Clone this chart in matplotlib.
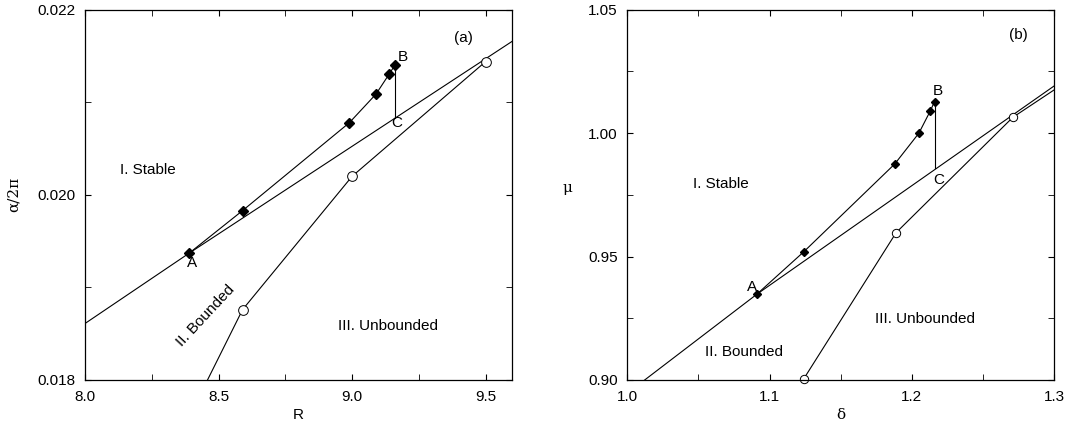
import numpy as np
import matplotlib
matplotlib.use("Agg")
import matplotlib.pyplot as plt

plt.rcParams['font.family'] = ['Liberation Sans', 'DejaVu Sans']
plt.rcParams['font.size'] = 11

# panel (a): R vs alpha/2pi
a_R_stab = [8.39, 8.59, 8.99, 9.09, 9.14, 9.16]
a_al_stab = [0.01937, 0.01983, 0.02078, 0.02109, 0.02131, 0.02140]
a_R_unb = [8.40, 8.59, 9.00, 9.50]
a_al_unb = [0.01766, 0.01876, 0.02020, 0.02144]
a_R_bnd = [8.0, 8.39, 9.6]
a_al_bnd = [0.01861, 0.01937, 0.02166]
a_R_BC = [9.16, 9.16]
a_al_BC = [0.02140, 0.02083]

# panel (b): delta vs mu
b_d_stab = [1.091, 1.124, 1.188, 1.205, 1.213, 1.216]
b_mu_stab = [0.9347, 0.9519, 0.9875, 1.0000, 1.0090, 1.0128]
b_d_unb = [1.124, 1.189, 1.271, 1.300]
b_mu_unb = [0.9004, 0.9597, 1.0064, 1.0175]
b_d_bnd = [1.0, 1.091, 1.3]
b_mu_bnd = [0.8946, 0.9347, 1.0191]
b_d_BC = [1.216, 1.216]
b_mu_BC = [1.0128, 0.9858]

fig = plt.figure(figsize=(10.9, 4.25), dpi=100)
ax1 = fig.add_axes([0.078, 0.106, 0.392, 0.871])
ax2 = fig.add_axes([0.5755, 0.106, 0.3915, 0.871])

lw = 0.8
for ax in (ax1, ax2):
    ax.tick_params(which='both', direction='in', top=True, right=True, pad=7)
    ax.tick_params(which='major', length=4)
    ax.tick_params(which='minor', length=4)
    for s in ax.spines.values():
        s.set_linewidth(0.9)

# ---- (a)
ax1.plot(a_R_bnd, a_al_bnd, 'k-', lw=lw)
ax1.plot(a_R_unb, a_al_unb, 'k-', lw=lw, marker='o', mfc='white', mec='k',
         ms=7, mew=0.7, markevery=[1, 2, 3])
ax1.plot(a_R_stab, a_al_stab, 'k-', lw=lw, marker='D', ms=5.5)
ax1.plot(a_R_BC, a_al_BC, 'k-', lw=lw)
ax1.set_xlim(8.0, 9.6)
ax1.set_ylim(0.018, 0.022)
ax1.set_xticks([8.0, 8.5, 9.0, 9.5])
ax1.set_xticks([8.25, 8.75, 9.25], minor=True)
ax1.set_yticks([0.018, 0.020, 0.022])
ax1.set_yticks([0.019, 0.021], minor=True)
ax1.set_xticklabels(['8.0', '8.5', '9.0', '9.5'])
ax1.set_yticklabels(['0.018', '0.020', '0.022'])
ax1.set_xlabel('R')
ax1.set_ylabel('α/2π', fontfamily='DejaVu Serif')
ax1.yaxis.set_label_coords(-0.15, 0.5)
ax1.xaxis.set_label_coords(0.5, -0.075)
ax1.text(9.417, 0.02170, '(a)', ha='center', va='center')
ax1.text(8.236, 0.02027, 'I. Stable', ha='center', va='center')
ax1.text(8.45, 0.01869, 'II. Bounded', ha='center', va='center', rotation=47)
ax1.text(9.136, 0.01858, 'III. Unbounded', ha='center', va='center')
ax1.text(8.40, 0.019265, 'A', ha='center', va='center')
ax1.text(9.19, 0.02149, 'B', ha='center', va='center')
ax1.text(9.166, 0.02078, 'C', ha='center', va='center')

# ---- (b)
ax2.plot(b_d_bnd, b_mu_bnd, 'k-', lw=lw)
ax2.plot(b_d_unb, b_mu_unb, 'k-', lw=lw, marker='o', mfc='white', mec='k',
         ms=6, mew=0.7, markevery=[0, 1, 2], clip_on=False)
ax2.plot(b_d_stab, b_mu_stab, 'k-', lw=lw, marker='D', ms=4.5)
ax2.plot(b_d_BC, b_mu_BC, 'k-', lw=lw)
ax2.set_xlim(1.0, 1.3)
ax2.set_ylim(0.90, 1.05)
ax2.set_xticks([1.0, 1.1, 1.2, 1.3])
ax2.set_xticks([1.05, 1.15, 1.25], minor=True)
ax2.set_yticks([0.90, 0.95, 1.00, 1.05])
ax2.set_yticks([0.925, 0.975, 1.025], minor=True)
ax2.set_xticklabels(['1.0', '1.1', '1.2', '1.3'])
ax2.set_yticklabels(['0.90', '0.95', '1.00', '1.05'])
ax2.set_xlabel('δ', fontfamily='DejaVu Serif')
ax2.set_ylabel('μ', rotation=0, fontfamily='DejaVu Serif')
ax2.yaxis.set_label_coords(-0.14, 0.5)
ax2.xaxis.set_label_coords(0.5, -0.075)
ax2.text(1.2747, 1.0398, '(b)', ha='center', va='center')
ax2.text(1.066, 0.9795, 'I. Stable', ha='center', va='center')
ax2.text(1.082, 0.9112, 'II. Bounded', ha='center', va='center')
ax2.text(1.209, 0.9245, 'III. Unbounded', ha='center', va='center')
ax2.text(1.088, 0.9375, 'A', ha='center', va='center')
ax2.text(1.218, 1.0170, 'B', ha='center', va='center')
ax2.text(1.219, 0.9810, 'C', ha='center', va='center')

fig.savefig('out.png', dpi=100)
